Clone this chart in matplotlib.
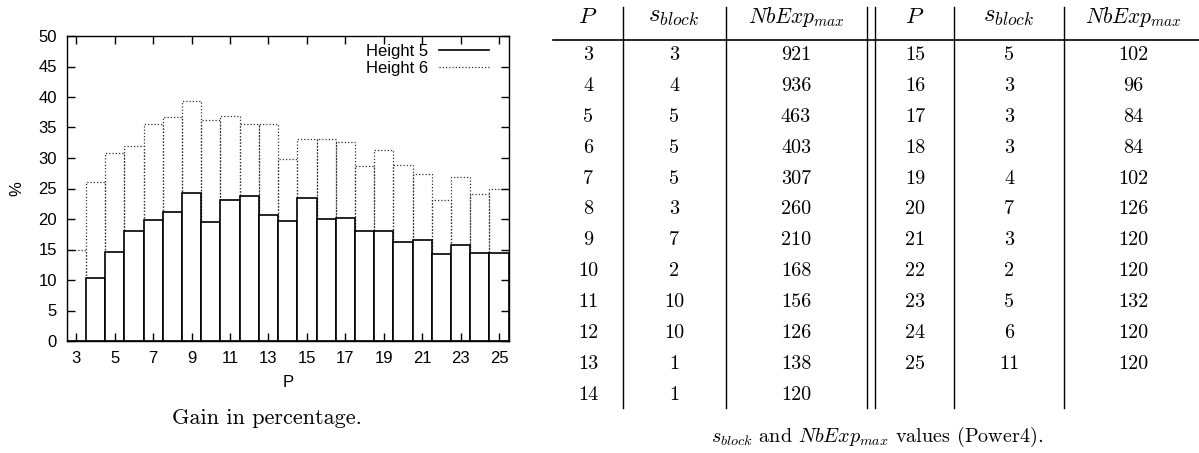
import matplotlib
matplotlib.use("Agg")
import matplotlib.pyplot as plt
from matplotlib.lines import Line2D

plt.rcParams['font.family'] = ['Liberation Sans', 'DejaVu Sans']
plt.rcParams['mathtext.fontset'] = 'cm'

# gain in percentage per P
P = list(range(3, 26))
height5 = [0, 10.4, 14.6, 18.1, 19.9, 21.1, 24.3, 19.5, 23.1, 23.8, 20.6, 19.7,
           23.5, 20.0, 20.2, 18.0, 18.1, 16.3, 16.5, 14.2, 15.8, 14.4, 14.5]
height6 = [15.0, 26.1, 30.8, 32.0, 35.6, 36.7, 39.4, 36.2, 36.9, 35.6, 35.6, 29.8,
           33.1, 33.1, 32.6, 28.7, 31.3, 28.8, 27.3, 23.1, 26.9, 24.1, 24.9]

# table (Power4)
tab_P = list(range(3, 26))
tab_sblock = [3, 4, 5, 5, 5, 3, 7, 2, 10, 10, 1, 1,
              5, 3, 3, 3, 4, 7, 3, 2, 5, 6, 11]
tab_nbexp = [921, 936, 463, 403, 307, 260, 210, 168, 156, 126, 138, 120,
             102, 96, 84, 84, 102, 126, 120, 120, 132, 120, 120]

W, H = 1199, 453
fig = plt.figure(figsize=(W / 100, H / 100), dpi=100)

# ---- chart ----
ax = fig.add_axes([66.7 / W, 1 - 341 / H, (508.7 - 66.7) / W, (341 - 36) / H])
dot = (0, (1, 1.6))
ax.bar(P, height6, width=1, fill=False, edgecolor='#333333', linewidth=0.9, linestyle=dot)
ax.bar(P, height5, width=1, facecolor='white', edgecolor='black', linewidth=1.2)
ax.set_xlim(2.5, 25.5)
ax.set_ylim(0, 50)
ax.set_xticks(range(3, 26, 2))
ax.set_yticks(range(0, 51, 5))
ax.tick_params(direction='in', top=True, right=True, length=6, width=1,
               labelsize=12, pad=7)
for s in ax.spines.values():
    s.set_linewidth(1)
ax.set_xlabel('P', fontsize=12)
ax.set_ylabel('%', fontsize=12)
ax.xaxis.set_label_coords(0.5, -0.11)
ax.yaxis.set_label_coords(-0.095, 0.5)

handles = [Line2D([], [], color='black', linewidth=1.2),
           Line2D([], [], color='#333333', linewidth=0.9, linestyle=dot)]
ax.legend(handles, ['Height 5', 'Height 6'], loc='upper right',
          bbox_to_anchor=(489 / W, 1 - 44 / H), bbox_transform=fig.transFigure,
          frameon=False, markerfirst=False, handlelength=3.0, handletextpad=0.65,
          labelspacing=0.1, borderpad=0, borderaxespad=0, fontsize=12)

# ---- table ----
tx = fig.add_axes([0, 0, 1, 1])
tx.set_xlim(0, W)
tx.set_ylim(H, 0)
tx.axis('off')

cm = dict(family=['cmr10', 'DejaVu Serif'], fontsize=14.5, ha='center', va='center')
row0, dy = 55, 30.9
left_cols = [588, 674, 796]
right_cols = [915, 1009, 1133]
headers = [r'$P$', r'$s_{block}$', r'$NbExp_{max}$']
head_sizes = [16.5, 18, 15.5]

for cols in (left_cols, right_cols):
    for x, h, fs in zip(cols, headers, head_sizes):
        tx.text(x, 17, h, **{**cm, 'fontsize': fs})

n_left = 12
for i, (p, s, nb) in enumerate(zip(tab_P, tab_sblock, tab_nbexp)):
    cols = left_cols if i < n_left else right_cols
    y = row0 + dy * (i if i < n_left else i - n_left)
    for x, v in zip(cols, (p, s, nb)):
        tx.text(x, y, str(v), **cm)

tx.plot([553, W], [40, 40], color='black', linewidth=1.2)
for x in (623, 726, 866.5, 875, 954, 1064):
    tx.plot([x, x], [7, 408], color='black', linewidth=1)

tx.text(267, 418, 'Gain in percentage.', **{**cm, 'fontsize': 16})
tx.text(877, 437, r'$s_{block}$ and $NbExp_{max}$ values (Power4).', **cm)

fig.savefig('out.png', dpi=100)
